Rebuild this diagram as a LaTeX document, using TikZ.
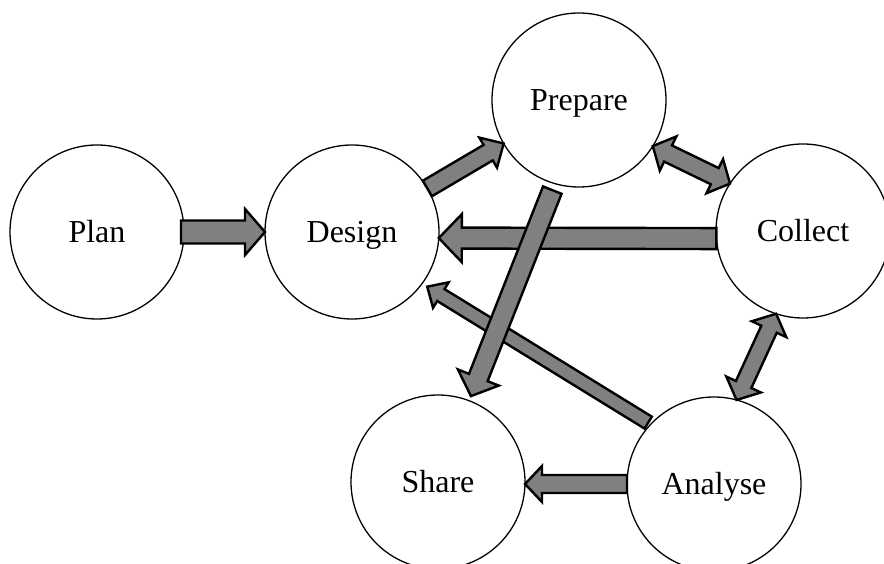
\documentclass[tikz,border=0pt]{standalone}
\usepackage{fontspec}
\setmainfont{Liberation Serif}
\usetikzlibrary{calc}
\definecolor{arrowfill}{RGB}{128,128,128}

\tikzset{
  stage/.style={circle, draw=black, line width=1.3pt, minimum size=174pt,
    inner sep=0pt, outer sep=0pt, font=\fontsize{32}{38}\selectfont,
    text height=21pt, text depth=0pt},
  blockarrow/.style={draw=black, fill=arrowfill, line width=2.4pt, line join=miter},
}

% Block arrow with one head: #1 tail, #2 tip, #3 shaft half-width,
% #4 head half-width, #5 head length
\newcommand{\onewayarrow}[5]{%
  \coordinate (hb) at ($(#2)!#5!(#1)$);
  \draw[blockarrow] ($(#1)!#3!90:(#2)$) -- ($(hb)!#3!90:(#2)$)
    -- ($(hb)!#4!90:(#2)$) -- (#2) -- ($(hb)!#4!-90:(#2)$)
    -- ($(hb)!#3!-90:(#2)$) -- ($(#1)!#3!-90:(#2)$) -- cycle;
}
% Block arrow with a head at both ends
\newcommand{\twowayarrow}[5]{%
  \coordinate (ha) at ($(#1)!#5!(#2)$);
  \coordinate (hb) at ($(#2)!#5!(#1)$);
  \draw[blockarrow] (#1) -- ($(ha)!#4!90:(#2)$) -- ($(ha)!#3!90:(#2)$)
    -- ($(hb)!#3!90:(#2)$) -- ($(hb)!#4!90:(#2)$) -- (#2)
    -- ($(hb)!#4!-90:(#2)$) -- ($(hb)!#3!-90:(#2)$)
    -- ($(ha)!#3!-90:(#2)$) -- ($(ha)!#4!-90:(#2)$) -- cycle;
}

\begin{document}
\begin{tikzpicture}[x=1pt,y=1pt]
  \useasboundingbox (0,0) rectangle (884,563);
  \clip (0,0) rectangle (884,563);

  % stages
  \node[stage] (plan)    at (97,331)  {Plan};
  \node[stage] (design)  at (352,331) {Design};
  \node[stage] (prepare) at (579,463) {Prepare};
  \node[stage] (collect) at (803,332) {Collect};
  \node[stage] (share)   at (438,81)  {Share};
  \node[stage] (analyse) at (714,79)  {Analyse};

  % free ends of the arrows
  \coordinate (pd-start) at ($(plan.east)+(-3,0)$);
  \coordinate (as-tip)   at (share.east |- analyse.west);
  \coordinate (ad-start) at ($(analyse.center)+(137:90)$);
  \coordinate (ad-tip)   at ($(design.center)+(-36:93)$);
  \coordinate (ps-start) at ($(prepare.center)+(253.5:94)$);
  \coordinate (ps-tip)   at ($(share.center)+(69:92)$);

  % flows between stages
  \onewayarrow{pd-start}{design.west}{11.5pt}{23pt}{20pt}
  \onewayarrow{design.30}{prepare.210}{9pt}{17.5pt}{18pt}
  \twowayarrow{prepare.-32}{collect.147}{9pt}{19pt}{17pt}
  \onewayarrow{collect.185}{design.-4}{10.5pt}{24pt}{23pt}
  \twowayarrow{analyse.75}{collect.252}{8.5pt}{19pt}{17pt}
  \onewayarrow{analyse.west}{as-tip}{9pt}{18pt}{17pt}
  \onewayarrow{ad-start}{ad-tip}{7pt}{15pt}{16pt}
  \onewayarrow{ps-start}{ps-tip}{10pt}{22pt}{20pt}
\end{tikzpicture}
\end{document}
